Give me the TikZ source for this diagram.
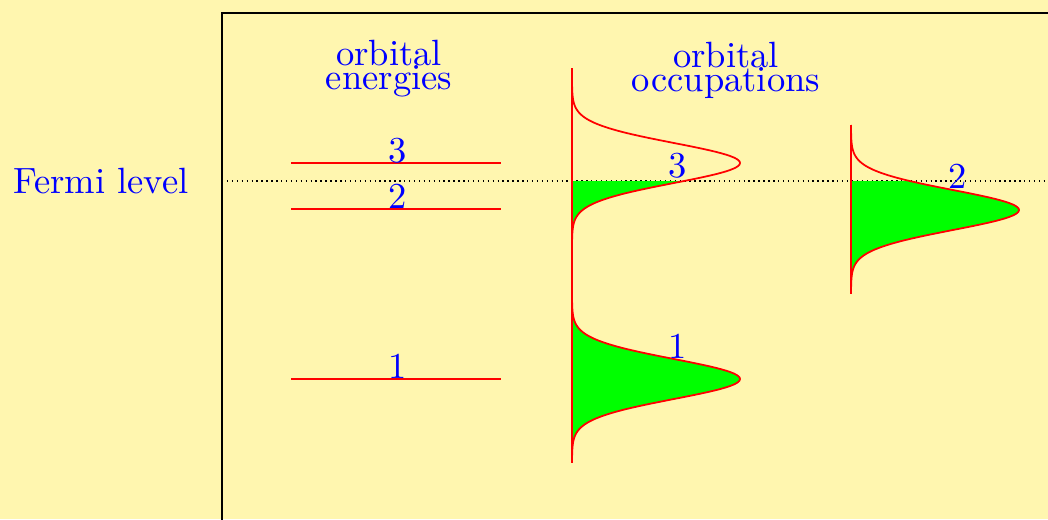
\documentclass[tikz,border=0pt]{standalone}
\usepackage{amsmath,amssymb}
\usepackage{tikz}
\usetikzlibrary{positioning, calc}
\definecolor{SlideYellow}{RGB}{255, 246, 175}
\definecolor{LabelBlue}{RGB}{0, 0, 255}
\definecolor{LevelRed}{RGB}{255, 0, 0}
\definecolor{OccGreen}{RGB}{0, 255, 0}

\begin{document}
\begin{tikzpicture}[
        txt/.style={text=LabelBlue, font=\fontsize{10.4}{12}\selectfont, inner sep=0pt},
        level/.style={draw=LevelRed, line width=0.5pt},
        occ/.style={fill=OccGreen}
    ]
        % Slide background and frame
        \clip (0,0) rectangle (10.48,5.19);
        \fill[SlideYellow] (0,0) rectangle (10.48,5.19);
        \draw[line width=0.8pt] (2.22,-1) -- (2.22,5.06) -- (11,5.06);

        % Fermi level
        \coordinate (fermiL) at (2.22,3.38);
        \coordinate (fermiR) at (10.48,3.38);
        \draw[densely dotted, line width=0.4pt] (fermiL) -- (fermiR);
        \node[txt, anchor=base] (fermi) at (1.01,3.26) {Fermi level};

        % Orbital energies
        \node[txt, align=center, anchor=south] (enhead) at (3.89,4.21) {orbital\\[-5.2pt]energies};
        \foreach \n/\y in {3/3.56, 2/3.10, 1/1.40} {
            \coordinate (e\n L) at (2.91,\y);
            \coordinate (e\n R) at (5.01,\y);
            \draw[level] (e\n L) -- (e\n R);
            \node[txt, anchor=base] (elab\n) at ($(e\n L)!0.5!(e\n R)+(0.02,0.01)$) {\n};
        }

        % Orbital occupations
        \node[txt, align=center, anchor=south] (occhead) at (7.26,4.20) {orbital\\[-5.2pt]occupations};
        \foreach \ax/\c/\lab/\lx/\ly in {5.72/3.56/3/6.78/3.42, 5.72/1.40/1/6.78/1.61, 8.51/3.09/2/9.58/3.31} {
            \pgfmathsetmacro{\ctop}{\c+0.85}
            \pgfmathsetmacro{\cbot}{\c-0.84}
            \pgfmathsetmacro{\ftop}{min(\ctop,3.38)}
            \fill[occ] (\ax,\ftop) -- plot[domain=\ftop:\cbot, variable=\t, samples=90]
                ({\ax+1.68*exp(-((\t-\c)*(\t-\c))/0.08)},\t) -- (\ax,\cbot) -- cycle;
            \draw[level] plot[domain=\ctop:\cbot, variable=\t, samples=120]
                ({\ax+1.68*exp(-((\t-\c)*(\t-\c))/0.08)},\t);
            \node[txt, anchor=base] (olab\lab) at (\lx,\ly) {\lab};
        }
        \coordinate (axAtop) at (5.72,4.51);
        \coordinate (axAbot) at (5.72,0.56);
        \coordinate (axBtop) at (8.51,3.94);
        \coordinate (axBbot) at (8.51,2.26);
        \draw[level] (axAtop) -- (axAbot);
        \draw[level] (axBtop) -- (axBbot);
    \end{tikzpicture}
\end{document}
